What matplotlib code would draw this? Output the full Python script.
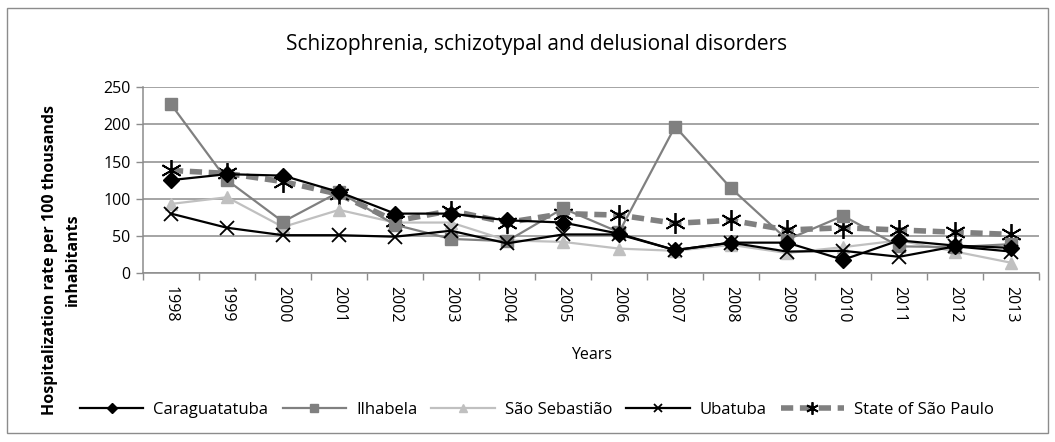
import matplotlib.pyplot as plt
from matplotlib.patches import Rectangle

plt.rcParams['font.family'] = ['Open Sans', 'DejaVu Sans']

years = [str(y) for y in range(1998, 2014)]

caraguatatuba = [125, 133, 131, 109, 80, 80, 71, 68, 53, 31, 41, 41, 18, 44, 37, 34]
ilhabela = [227, 125, 69, 109, 65, 46, 43, 87, 55, 197, 114, 45, 77, 36, 35, 39]
sao_sebastiao = [93, 102, 62, 85, 68, 68, 44, 42, 33, 30, 38, 27, 35, 44, 29, 14]
ubatuba = [80, 61, 51, 51, 49, 57, 40, 52, 52, 31, 41, 29, 30, 22, 36, 29]
state_sp = [138, 134, 123, 106, 70, 84, 68, 80, 78, 67, 71, 58, 61, 58, 55, 52]

grid_c = '#8c8c8c'

fig = plt.figure(figsize=(10.55, 4.42), dpi=100)
fig.patches.append(Rectangle((0.007, 0.02), 0.986, 0.963, transform=fig.transFigure,
                             fill=False, ec='#8c8c8c', lw=1))
ax = fig.add_axes([0.1355, 0.382, 0.8495, 0.421])

x = list(range(len(years)))
star = (6, 2, 0)

l1, = ax.plot(x, caraguatatuba, color='black', lw=1.6, marker='D', ms=8,
              mfc='black', mec='black', label='Caraguatatuba', zorder=5)
l2, = ax.plot(x, ilhabela, color='#808080', lw=1.6, marker='s', ms=9,
              mfc='#808080', mec='#808080', label='Ilhabela', zorder=4)
l3, = ax.plot(x, sao_sebastiao, color='#c0c0c0', lw=1.6, marker='^', ms=9,
              mfc='#c0c0c0', mec='#c0c0c0', label='São Sebastião', zorder=3)
l4, = ax.plot(x, ubatuba, color='black', lw=1.6, marker='x', ms=10, mew=1.3,
              label='Ubatuba', zorder=6)
l5, = ax.plot(x, state_sp, color='#808080', lw=4, ls=(0, (2.2, 1.2)), marker=star,
              ms=15, mec='black', mew=1.3, label='State of São Paulo', zorder=2)

ax.set_xlim(-0.5, len(years) - 0.5)
ax.set_ylim(0, 250)
ax.set_yticks(range(0, 251, 50))
ax.yaxis.grid(True, color=grid_c, lw=1.1)
ax.set_axisbelow(True)

ax.set_xticks([i - 0.5 for i in range(len(years) + 1)])
ax.set_xticklabels([])
ax.set_xticks(x, minor=True)
ax.set_xticklabels(years, minor=True, rotation=270, fontsize=11.5)
ax.tick_params(axis='x', which='major', length=5, color=grid_c, width=1)
ax.tick_params(axis='x', which='minor', length=0, pad=9)
ax.tick_params(axis='y', length=5, color=grid_c, width=1, labelsize=11.5, pad=4)

for s in ['top', 'right']:
    ax.spines[s].set_visible(False)
for s in ['left', 'bottom']:
    ax.spines[s].set_color(grid_c)
    ax.spines[s].set_linewidth(1.1)

fig.text(0.0585, 0.412, 'Hospitalization rate per 100 thousands\ninhabitants',
         rotation=90, ha='center', va='center', fontsize=11.5, fontweight='bold',
         linespacing=1.6, multialignment='center')
ax.set_xlabel('Years', fontsize=11.5, labelpad=18)

fig.text(0.509, 0.9, 'Schizophrenia, schizotypal and delusional disorders',
         ha='center', va='center', fontsize=15)

fig.legend(handles=[l1, l2, l3, l4, l5], loc='center', bbox_to_anchor=(0.509, 0.072),
           ncol=5, frameon=False, fontsize=12, handlelength=3.8, columnspacing=0.85,
           markerscale=0.6, handletextpad=0.6, borderaxespad=0)

plt.savefig('out.png', dpi=100)
